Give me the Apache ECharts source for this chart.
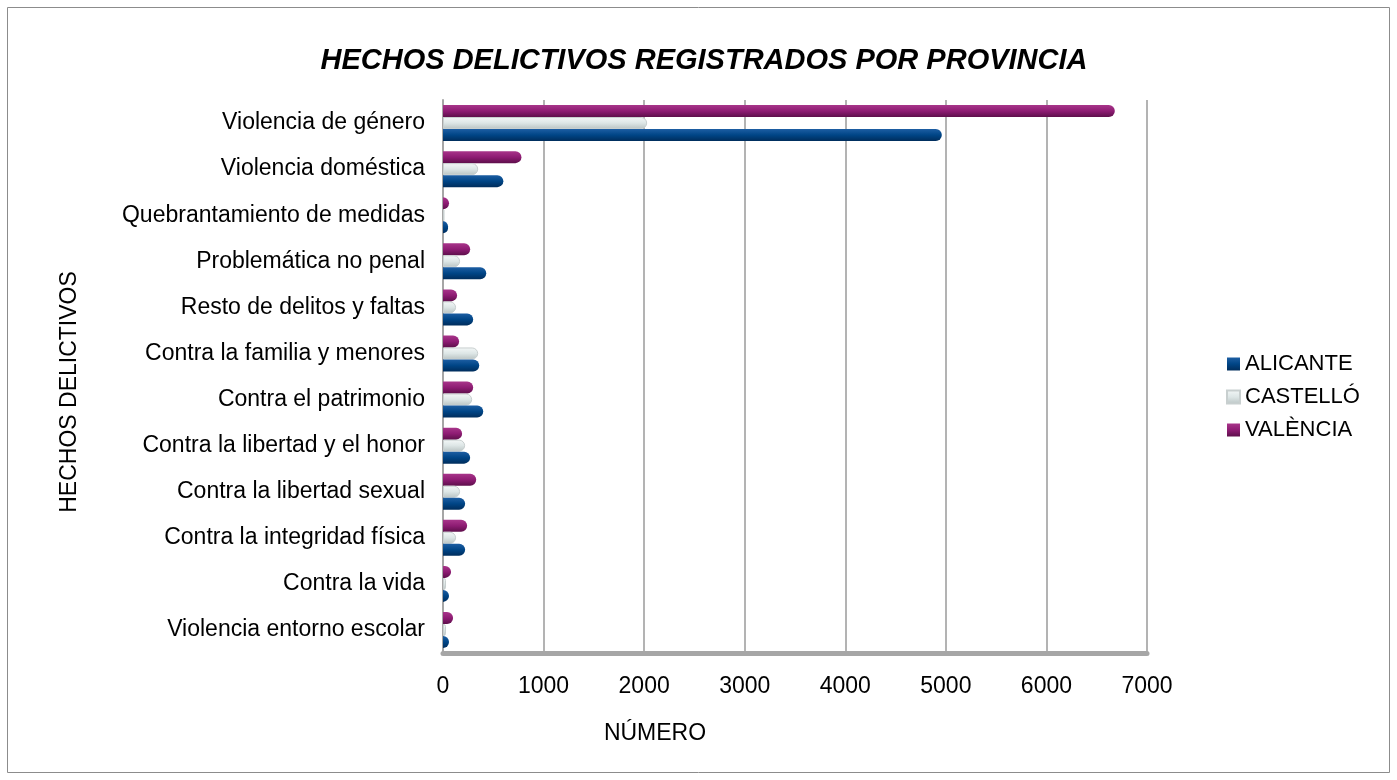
<!DOCTYPE html>
<html>
<head>
<meta charset="utf-8">
<script src="https://cdn.jsdelivr.net/npm/echarts@6/dist/echarts.min.js"></script>
<style>
  html, body { margin: 0; padding: 0; background: #fff; }
  #chart { width: 1397px; height: 780px; }
</style>
</head>
<body>
<div id="chart"></div>
<script>
// categorias de abajo hacia arriba
const categories = [
  'Violencia entorno escolar',
  'Contra la vida',
  'Contra la integridad física',
  'Contra la libertad sexual',
  'Contra la libertad y el honor',
  'Contra el patrimonio',
  'Contra la familia y menores',
  'Resto de delitos y faltas',
  'Problemática no penal',
  'Quebrantamiento de medidas',
  'Violencia doméstica',
  'Violencia de género'
]
const alicante = [60, 60, 220, 220, 270, 400, 360, 300, 430, 50, 600, 4960]
const castello = [30, 30, 130, 170, 220, 290, 350, 130, 170, 15, 350, 2030]
const valencia = [100, 80, 240, 330, 190, 300, 160, 140, 270, 60, 780, 6680]
const xTicks = [0, 1000, 2000, 3000, 4000, 5000, 6000, 7000]

function barStyle (top, mid, bottom) {
  return {
    color: {
      type: 'linear', x: 0, y: 0, x2: 0, y2: 1,
      colorStops: [
        { offset: 0, color: top },
        { offset: 0.5, color: mid },
        { offset: 1, color: bottom }
      ]
    },
    borderRadius: [0, 6, 6, 0]
  }
}

const font = 'Liberation Sans'
const chart = echarts.init(document.getElementById('chart'))
const option = {
  backgroundColor: '#fff',
  animation: false,
  title: {
    text: 'HECHOS DELICTIVOS REGISTRADOS POR PROVINCIA',
    left: 699,
    textAlign: 'center',
    top: 41,
    textStyle: {
      fontFamily: font,
      fontSize: 29,
      fontWeight: 'bold',
      fontStyle: 'italic',
      color: '#000'
    }
  },
  graphic: [
    {
      type: 'rect',
      shape: { x: 7.5, y: 7.5, width: 1382, height: 765 },
      style: { fill: 'none', stroke: '#8c8c8c', lineWidth: 1 }
    },
    {
      type: 'text',
      x: 70,
      y: 392,
      rotation: Math.PI / 2,
      style: {
        text: 'HECHOS DELICTIVOS',
        font: '23px "Liberation Sans"',
        fill: '#000',
        align: 'center',
        verticalAlign: 'middle'
      }
    },
    {
      type: 'text',
      x: 655,
      y: 734,
      style: {
        text: 'NÚMERO',
        font: '23px "Liberation Sans"',
        fill: '#000',
        align: 'center',
        verticalAlign: 'middle'
      }
    }
  ],
  legend: {
    data: ['ALICANTE', 'CASTELLÓ', 'VALÈNCIA'],
    orient: 'vertical',
    left: 1221,
    top: 348,
    itemWidth: 13,
    itemHeight: 13,
    itemGap: 11,
    icon: 'rect',
    textStyle: { fontFamily: font, fontSize: 22, color: '#000', padding: [0, 0, 0, 0] }
  },
  grid: { left: 443, right: 250, top: 100, bottom: 127 },
  xAxis: {
    type: 'value',
    min: 0,
    max: 7000,
    interval: 1000,
    axisLine: { show: true, lineStyle: { color: '#a6a6a6', width: 5 } },
    axisTick: { show: false },
    axisLabel: {
      margin: 22,
      fontFamily: font,
      fontSize: 23,
      color: '#000',
      formatter: v => xTicks.includes(v) ? String(v) : ''
    },
    splitLine: { show: true, lineStyle: { color: '#b3b3b3', width: 2 } }
  },
  yAxis: {
    type: 'category',
    data: categories,
    axisLine: { show: true, lineStyle: { color: '#a6a6a6', width: 2 } },
    axisTick: { show: false },
    axisLabel: {
      margin: 18,
      padding: [8, 0, 0, 0],
      fontFamily: font,
      fontSize: 23,
      color: '#000'
    }
  },
  series: [
    {
      name: 'VALÈNCIA',
      type: 'bar',
      data: valencia,
      barWidth: 12,
      barGap: '0%',
      itemStyle: barStyle('#a8358a', '#8e1c73', '#5e0f4b')
    },
    {
      name: 'CASTELLÓ',
      type: 'bar',
      data: castello,
      barWidth: 12,
      barGap: '0%',
      itemStyle: Object.assign(barStyle('#f4f8f8', '#dde6e6', '#b9c3c3'), {
        borderColor: '#c8cfcf', borderWidth: 1
      })
    },
    {
      name: 'ALICANTE',
      type: 'bar',
      data: alicante,
      barWidth: 12,
      barGap: '0%',
      itemStyle: barStyle('#1d5ea3', '#004586', '#002d5c')
    }
  ]
}
chart.setOption(option)
</script>
</body>
</html>
